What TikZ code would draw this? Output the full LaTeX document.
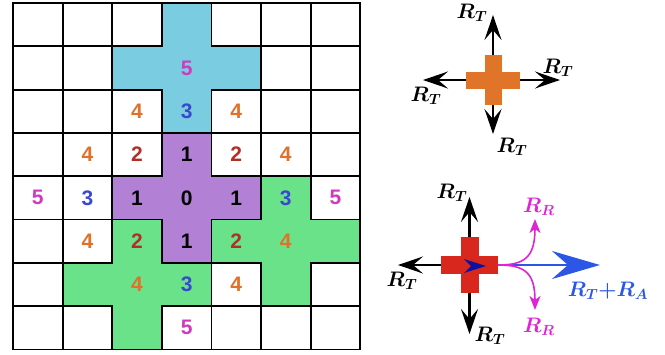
\RequirePackage{fix-cm}
\documentclass[tikz,border=0pt]{standalone}
\usepackage{amsmath,bm}
\usepackage{fontspec}
\newfontfamily\numfont{Liberation Sans}
\usetikzlibrary{positioning,arrows.meta}
\definecolor{cellblue}{RGB}{122,204,224}
\definecolor{cellpurple}{RGB}{178,128,212}
\definecolor{cellgreen}{RGB}{106,226,138}
\definecolor{numfive}{RGB}{208,58,192}
\definecolor{numfour}{RGB}{224,112,42}
\definecolor{numthree}{RGB}{58,72,208}
\definecolor{numtwo}{RGB}{176,48,40}
\definecolor{crossorange}{RGB}{224,116,40}
\definecolor{crossred}{RGB}{216,40,30}
\definecolor{arrowblue}{RGB}{44,86,230}
\definecolor{arrowpink}{RGB}{222,36,214}
\definecolor{tipnavy}{RGB}{16,16,160}
% plus-shaped block of five cells around cell (#1,#2)
\newcommand{\gridcross}[3]{%
  \filldraw[crossline,fill=#3] (#1,#2-1) -- ++(1,0) -- ++(0,1) -- ++(1,0)
    -- ++(0,1) -- ++(-1,0) -- ++(0,1) -- ++(-1,0) -- ++(0,-1) -- ++(-1,0)
    -- ++(0,-1) -- ++(1,0) -- cycle;}

\begin{document}
\begin{tikzpicture}[x=1pt,y=-1pt,
  gridline/.style={line width=1.8pt,line cap=rect},
  crossline/.style={draw=black,line width=1.8pt,line join=miter},
  numtext/.style={font=\numfont\bfseries\fontsize{21}{25}\selectfont,inner sep=0pt},
  crossbar/.style={rectangle,inner sep=0pt,outer sep=0pt},
  rlabel/.style={font=\fontsize{21}{25}\selectfont,inner sep=0pt},
  tarrow/.style={-{Stealth[length=25pt,width=17pt,inset=10pt]},line width=2.4pt},
  barrow/.style={-{Stealth[length=48pt,width=28pt,inset=16pt]},line width=2.6pt,arrowblue},
  parrow/.style={-{Stealth[length=14pt,width=11pt,inset=4pt]},line width=1.6pt,arrowpink}]
\useasboundingbox (0,0) rectangle (665,354);
% Grid of cells
\begin{scope}[shift={(13,3)},x=49.6pt,y=-43.3pt]
  \foreach \i in {0,...,7} \draw[gridline] (\i,0) -- (\i,8);
  \foreach \j in {0,...,8} \draw[gridline] (0,\j) -- (7,\j);
  \gridcross{3}{1}{cellblue}
  \gridcross{5}{5}{cellgreen}
  \gridcross{2}{6}{cellgreen}
  \gridcross{3}{4}{cellpurple}
  % Distances
  \foreach \c/\r/\n/\col in {3/1/5/numfive,
      2/2/4/numfour,3/2/3/numthree,4/2/4/numfour,
      1/3/4/numfour,2/3/2/numtwo,3/3/1/black,4/3/2/numtwo,5/3/4/numfour,
      0/4/5/numfive,1/4/3/numthree,2/4/1/black,3/4/0/black,4/4/1/black,5/4/3/numthree,6/4/5/numfive,
      1/5/4/numfour,2/5/2/numtwo,3/5/1/black,4/5/2/numtwo,5/5/4/numfour,
      2/6/4/numfour,3/6/3/numthree,4/6/4/numfour,
      3/7/5/numfive}
    \node[numtext,text=\col] (n-\c-\r) at (\c+0.5,\r+0.5) {\n};
\end{scope}
% Top: orange block
\node[crossbar,fill=crossorange,minimum width=54pt,minimum height=17pt] (oh) at (493,80) {};
\node[crossbar,fill=crossorange,minimum width=17pt,minimum height=50pt] (ov) at (493,80) {};
\coordinate (ot-n) at (493,15);
\coordinate (ot-w) at (423,80);
\coordinate (ot-e) at (560,80);
\coordinate (ot-s) at (493,134);
\draw[tarrow] (ov.north) -- (ot-n);
\draw[tarrow] (oh.west) -- (ot-w);
\draw[tarrow] (oh.east) -- (ot-e);
\draw[tarrow] (ov.south) -- (ot-s);
\node[rlabel] (ol-n) at (472,13) {$\bm{R_T}$};
\node[rlabel] (ol-e) at (558,68) {$\bm{R_T}$};
\node[rlabel] (ol-w) at (426,96) {$\bm{R_T}$};
\node[rlabel] (ol-s) at (512,147) {$\bm{R_T}$};
% Bottom: red block
\node[crossbar,fill=crossred,minimum width=57pt,minimum height=18pt] (rh) at (469.5,265) {};
\node[crossbar,fill=crossred,minimum width=18pt,minimum height=56pt] (rv) at (469.5,265) {};
\fill[tipnavy] (486,266) -- (464,259) -- (471,266) -- (464,273) -- cycle;
\coordinate (rt-n) at (469.5,197);
\coordinate (rt-w) at (398,265);
\coordinate (rt-s) at (469.5,334);
\coordinate (rt-e) at (600,265);
\coordinate (rp-n) at (535,219);
\coordinate (rp-s) at (535,310);
\draw[tarrow] (rv.north) -- (rt-n);
\draw[tarrow] (rh.west) -- (rt-w);
\draw[tarrow] (rv.south) -- (rt-s);
\draw[barrow] (rh.east) -- (rt-e);
\draw[parrow] (rh.east) .. controls (524,265) and (535,258) .. (rp-n);
\draw[parrow] (rh.east) .. controls (524,265) and (535,272) .. (rp-s);
\node[rlabel] (rl-n) at (452,193) {$\bm{R_T}$};
\node[rlabel] (rl-w) at (402,281) {$\bm{R_T}$};
\node[rlabel] (rl-s) at (490,336) {$\bm{R_T}$};
\node[rlabel,text=arrowpink] (rl-pn) at (539,207) {$\bm{R_R}$};
\node[rlabel,text=arrowpink] (rl-ps) at (539,327) {$\bm{R_R}$};
\node[rlabel,text=arrowblue] (rl-e) at (608,291) {$\bm{R_T{+}R_A}$};
\end{tikzpicture}
\end{document}
